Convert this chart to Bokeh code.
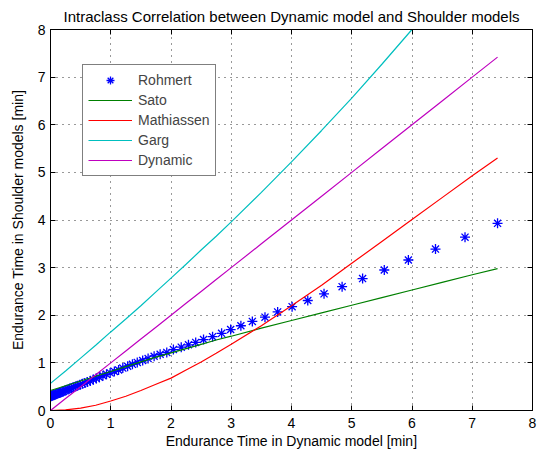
from bokeh.plotting import figure
from bokeh.models import Range1d, LinearAxis, Legend, LegendItem, FixedTicker
from bokeh.embed import file_html
from bokeh.resources import INLINE

# ---- data ----
rohmert_x = [0.00, 0.01, 0.02, 0.03, 0.04, 0.05, 0.06, 0.08, 0.09, 0.11, 0.13, 0.15, 0.17, 0.19,
             0.21, 0.24, 0.26, 0.29, 0.32, 0.35, 0.38, 0.42, 0.45, 0.49, 0.53, 0.57, 0.61, 0.66,
             0.71, 0.76, 0.81, 0.87, 0.93, 0.99, 1.06, 1.13, 1.20, 1.28, 1.36, 1.44, 1.53, 1.62,
             1.72, 1.82, 1.93, 2.04, 2.17, 2.29, 2.41, 2.54, 2.69, 2.84, 2.99, 3.16, 3.35, 3.56,
             3.77, 4.01, 4.27, 4.54, 4.84, 5.18, 5.54, 5.94, 6.39, 6.88, 7.42]
rohmert_y = [0.30, 0.30, 0.31, 0.31, 0.32, 0.32, 0.33, 0.34, 0.34, 0.35, 0.36, 0.37, 0.38, 0.39,
             0.40, 0.42, 0.43, 0.44, 0.46, 0.47, 0.49, 0.51, 0.52, 0.54, 0.56, 0.58, 0.60, 0.62,
             0.65, 0.67, 0.70, 0.73, 0.76, 0.79, 0.82, 0.85, 0.89, 0.93, 0.97, 1.01, 1.05, 1.09,
             1.14, 1.18, 1.22, 1.28, 1.33, 1.38, 1.43, 1.49, 1.55, 1.62, 1.70, 1.78, 1.87, 1.96,
             2.07, 2.18, 2.31, 2.45, 2.60, 2.77, 2.95, 3.16, 3.39, 3.64, 3.93]

model_x = [0.0, 0.25, 0.5, 0.75, 1.0, 1.25, 1.5, 1.75, 2.0, 2.25, 2.5, 2.75, 3.0,
           3.5, 4.0, 4.5, 5.0, 5.5, 6.0, 6.5, 7.0, 7.42]
sato_y = [0.42, 0.52, 0.62, 0.72, 0.82, 0.92, 1.02, 1.12, 1.21, 1.30, 1.39, 1.48, 1.56,
          1.73, 1.89, 2.05, 2.21, 2.37, 2.53, 2.69, 2.85, 2.98]
mathiassen_y = [0.0, 0.013, 0.05, 0.11, 0.20, 0.30, 0.42, 0.55, 0.68, 0.85, 1.02, 1.20, 1.39,
                1.78, 2.20, 2.63, 3.09, 3.55, 4.01, 4.47, 4.93, 5.30]
garg_y = [0.57, 0.83, 1.10, 1.37, 1.65, 1.92, 2.20, 2.49, 2.78, 3.07, 3.37, 3.66, 3.96,
          4.58, 5.22, 5.88, 6.56, 7.27, 8.00, 8.74, 9.50, 10.15]
dynamic_y = [0.0, 0.25, 0.5, 0.75, 1.0, 1.25, 1.5, 1.75, 2.0, 2.25, 2.5, 2.75, 3.0,
             3.5, 4.0, 4.5, 5.0, 5.5, 6.0, 6.5, 7.0, 7.42]

x_ticks = [0, 1, 2, 3, 4, 5, 6, 7, 8]
y_ticks = [0, 1, 2, 3, 4, 5, 6, 7, 8]

title_text = "Intraclass Correlation between Dynamic model and Shoulder models"
x_label = "Endurance Time in Dynamic model [min]"
y_label = "Endurance Time in Shoulder models [min]"

FONT = "Liberation Sans"
FS = "14px"

p = figure(frame_width=482, frame_height=381,
           x_range=Range1d(0, 8), y_range=Range1d(0, 8),
           output_backend="svg", toolbar_location=None,
           title=title_text,
           min_border_left=50, min_border_right=14, min_border_top=29, min_border_bottom=41)

p.title.align = "center"
p.title.text_font = FONT
p.title.text_font_size = "15px"
p.title.text_font_style = "normal"
p.title.text_color = "black"
p.title.standoff = 9

p.background_fill_color = "white"
p.border_fill_color = "white"
p.outline_line_color = "black"
p.outline_line_width = 1

for ax, ticks in ((p.xaxis[0], x_ticks), (p.yaxis[0], y_ticks)):
    ax.ticker = FixedTicker(ticks=ticks)
    ax.major_tick_in = 5
    ax.major_tick_out = 0
    ax.minor_tick_line_color = None
    ax.axis_line_color = "black"
    ax.major_tick_line_color = "black"
    ax.major_label_text_font = FONT
    ax.major_label_text_font_size = FS
    ax.major_label_text_color = "black"
    ax.axis_label_text_font = FONT
    ax.axis_label_text_font_size = FS
    ax.axis_label_text_font_style = "normal"
    ax.axis_label_text_color = "black"

p.xaxis.axis_label = x_label
p.yaxis.axis_label = y_label
p.xaxis.major_label_standoff = 7
p.xaxis.axis_label_standoff = 2
p.yaxis.major_label_standoff = 5
p.yaxis.axis_label_standoff = 9

# ticks on top and right (box style), labels not drawn
for loc, ticks in (("above", x_ticks), ("right", y_ticks)):
    ax = LinearAxis(ticker=FixedTicker(ticks=ticks))
    ax.major_tick_in = 5
    ax.major_tick_out = 0
    ax.minor_tick_line_color = None
    ax.major_label_text_font_size = "1px"
    ax.major_label_text_color = None
    ax.major_label_standoff = 0
    ax.axis_line_color = "black"
    ax.major_tick_line_color = "black"
    p.add_layout(ax, loc)

p.xgrid.ticker = FixedTicker(ticks=x_ticks)
p.ygrid.ticker = FixedTicker(ticks=y_ticks)
p.grid.grid_line_color = "black"
p.grid.grid_line_alpha = 0.8
p.grid.grid_line_dash = "1 5"

r_roh = p.scatter(rohmert_x, rohmert_y, marker="asterisk", size=10,
                  line_color="#0000FF", line_width=1.3)
r_sato = p.multi_line([model_x], [sato_y], line_color="#008000", line_width=1.2)
r_math = p.multi_line([model_x], [mathiassen_y], line_color="#FF0000", line_width=1.2)
r_garg = p.multi_line([model_x], [garg_y], line_color="#00BFBF", line_width=1.2)
r_dyn = p.multi_line([model_x], [dynamic_y], line_color="#BF00BF", line_width=1.2)

legend = Legend(items=[
    LegendItem(label="Rohmert", renderers=[r_roh]),
    LegendItem(label="Sato", renderers=[r_sato]),
    LegendItem(label="Mathiassen", renderers=[r_math]),
    LegendItem(label="Garg", renderers=[r_garg]),
    LegendItem(label="Dynamic", renderers=[r_dyn]),
], location=(32, 234))
legend.border_line_color = "black"
legend.border_line_width = 1
legend.background_fill_color = "white"
legend.background_fill_alpha = 1
legend.label_text_font = FONT
legend.label_text_font_size = FS
legend.label_height = 20
legend.glyph_height = 20
legend.glyph_width = 44
legend.spacing = 0
legend.padding = 5
legend.margin = 0
legend.label_standoff = 6
p.add_layout(legend)

open("out.html", "w").write(file_html(p, INLINE))
